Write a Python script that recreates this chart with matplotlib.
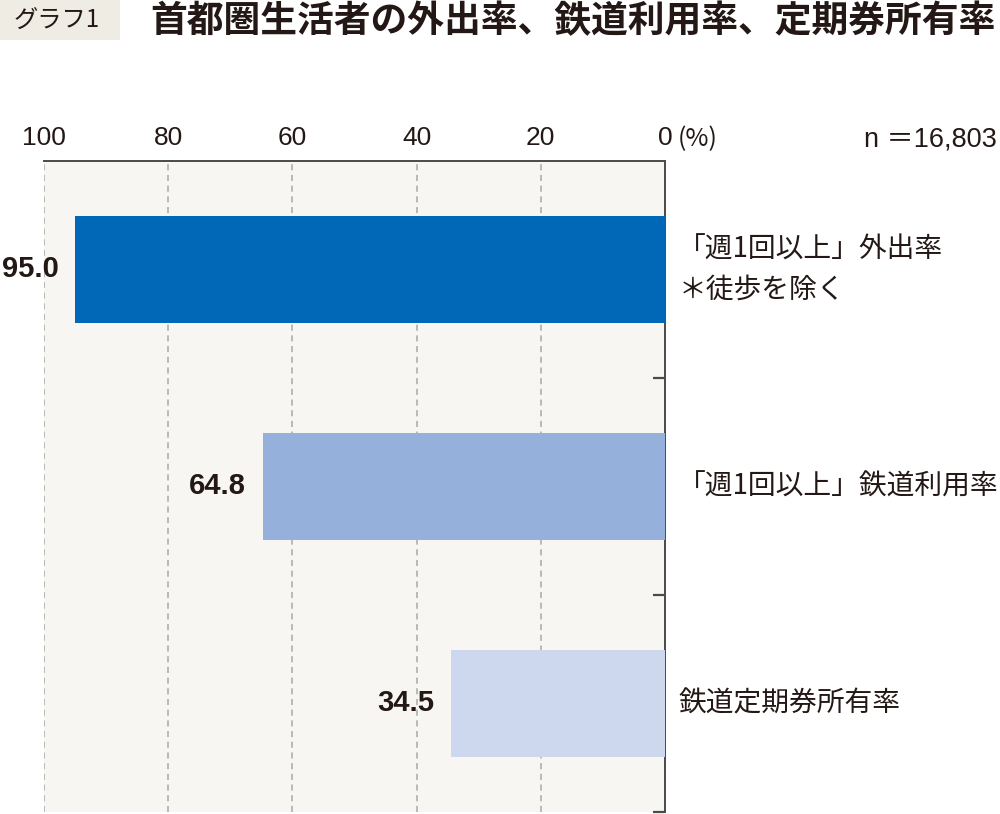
import matplotlib
matplotlib.use("Agg")
import matplotlib.pyplot as plt
from matplotlib.patches import Rectangle

plt.rcParams['font.family'] = ['Noto Sans CJK JP', 'DejaVu Sans']

# ---- data ----
categories = ["「週1回以上」外出率\n＊徒歩を除く", "「週1回以上」鉄道利用率", "鉄道定期券所有率"]
values = [95.0, 64.8, 34.5]
value_labels = ["95.0", "64.8", "34.5"]
bar_colors = ["#0068b7", "#95b0db", "#cdd7ee"]
x_ticks = [100, 80, 60, 40, 20, 0]
x_ticklabels = ["100", "80", "60", "40", "20", "0"]
title = "首都圏生活者の外出率、鉄道利用率、定期券所有率"
badge = "グラフ1"
sample_note = "n ＝16,803"
unit_note = "(%)"

TXT = "#231815"
fig = plt.figure(figsize=(10, 8.14), dpi=100)
fig.patch.set_facecolor("white")

ax = fig.add_axes([0.044, 0.00246, 0.621, 0.7998])
ax.set_facecolor("#f7f6f2")

ypos = list(range(len(categories)))
ax.barh(ypos, values, height=0.49, color=bar_colors, zorder=3)
ax.set_xlim(100, 0)
ax.set_ylim(2.5, -0.5)

# x axis on top
ax.xaxis.tick_top()
ax.set_xticks(x_ticks)
ax.set_xticklabels(x_ticklabels, family=['Liberation Sans', 'DejaVu Sans'], fontsize=19, color=TXT)
ax.tick_params(axis='x', length=0, pad=8)
ax.grid(axis='x', linestyle=(0, (4, 3)), color='#a8a8a8', linewidth=1.1, zorder=1)

# y axis: ticks at category boundaries on right spine
ax.yaxis.tick_right()
ax.set_yticks([0.5, 1.5, 2.5])
ax.set_yticklabels([])
ax.tick_params(axis='y', direction='in', length=8.5, width=1.6, color='#4a4a4a')

for s in ['left', 'bottom']:
    ax.spines[s].set_visible(False)
for s in ['top', 'right']:
    ax.spines[s].set_color('#4a4a4a')
    ax.spines[s].set_linewidth(1.4)

# value labels
for y, v, lab in zip(ypos, values, value_labels):
    ax.annotate(lab, xy=(v, y), xytext=(-12, 0), textcoords='offset points',
                ha='right', va='center', fontsize=21, fontweight='bold', color=TXT,
                family=['Liberation Sans', 'DejaVu Sans'],
                annotation_clip=False)

# category labels to the right
for y, c in zip(ypos, categories):
    ax.annotate(c, xy=(0, y), xytext=(9.5, 0), textcoords='offset points',
                ha='left', va='center', fontsize=20, color=TXT, linespacing=1.45,
                annotation_clip=False)

# unit note after "0"
ax.annotate(unit_note, xy=(0, -0.5), xycoords='data', xytext=(9, 6.2), textcoords='offset points',
            ha='left', va='bottom', fontsize=18, color=TXT, annotation_clip=False)

# n note
fig.text(0.997, 1 - 140 / 814, sample_note, ha='right', va='center', fontsize=19.5, color=TXT,
         family=['Liberation Sans', 'Noto Sans CJK JP'])

# badge
fig.patches.append(Rectangle((0, 1 - 40 / 814), 0.12, 40 / 814, transform=fig.transFigure,
                             facecolor='#efece3', edgecolor='none'))
fig.text(0.057, 1 - 20 / 814, badge, ha='center', va='center', fontsize=17.5, color=TXT)

# title
fig.text(0.150, 1 - 22 / 814, title, ha='left', va='center', fontsize=26.5, fontweight='bold', color=TXT)

fig.savefig("out.png", dpi=100)
